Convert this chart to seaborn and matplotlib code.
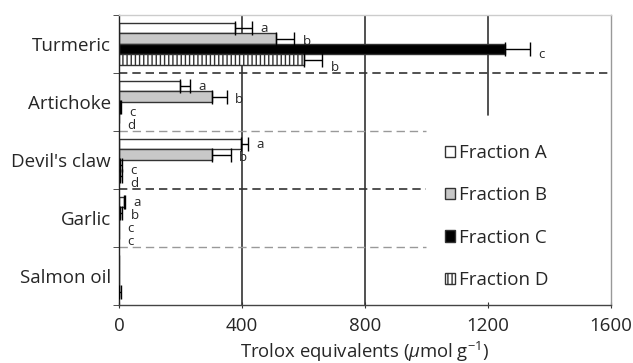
import pandas as pd
import matplotlib
matplotlib.use('Agg')
import matplotlib.pyplot as plt
import matplotlib.patches as mpatches
import seaborn as sns

# Data (Trolox equivalents, umol/g)
samples = ['Turmeric', 'Artichoke', "Devil's claw", 'Garlic', 'Salmon oil']
fractions = ['Fraction A', 'Fraction B', 'Fraction C', 'Fraction D']

frac_a = [378, 199, 396, 15, 0]
frac_b = [510, 303, 303, 2, 0]
frac_c = [1255, 2, 3, 0, 0]
frac_d = [602, 0, 3, 0, 1]

err_a = [55, 32, 24, 5, 0]
err_b = [60, 47, 60, 7, 0]
err_c = [82, 4, 7, 0, 0]
err_d = [58, 0, 7, 0, 7]

letters_a = ['a', 'a', 'a', 'a', '']
letters_b = ['b', 'b', 'b', 'b', '']
letters_c = ['c', 'c', 'c', 'c', '']
letters_d = ['b', 'd', 'd', 'c', '']

values = [frac_a, frac_b, frac_c, frac_d]
errors = [err_a, err_b, err_c, err_d]
letters = [letters_a, letters_b, letters_c, letters_d]
fills = ['white', '#c8c8c8', 'black', 'white']
hatches = [None, None, None, '||||']
letter_drop = [0.0, 0.05, 0.1, 0.14]

rows = []
for fr, vals in zip(fractions, values):
    for s, v in zip(samples, vals):
        rows.append({'sample': s, 'fraction': fr, 'value': v})
df = pd.DataFrame(rows)

sns.set_style('ticks')
plt.rcParams['font.family'] = ['Open Sans', 'DejaVu Sans']
plt.rcParams['mathtext.fontset'] = 'custom'
plt.rcParams['mathtext.rm'] = 'Open Sans'
plt.rcParams['mathtext.it'] = 'Open Sans:italic'
plt.rcParams['hatch.linewidth'] = 1.0

fig = plt.figure(figsize=(6.33, 3.63), dpi=100)
ax = fig.add_axes([0.188, 0.160, 0.777, 0.799])

sns.barplot(data=df, x='value', y='sample', hue='fraction', orient='h',
            palette=fills, saturation=1, width=0.72, errorbar=None,
            edgecolor='#333333', linewidth=1, legend=False, ax=ax)

# one-sided error bars + significance letters
for container, errs, labs, hatch, dy in zip(ax.containers, errors, letters, hatches, letter_drop):
    for patch, e, lab in zip(container.patches, errs, labs):
        if hatch:
            patch.set_hatch(hatch)
        yc = patch.get_y() + patch.get_height() / 2
        w = patch.get_width()
        if e > 0:
            ax.errorbar(w, yc, xerr=[[0], [e]], fmt='none', ecolor='black',
                        elinewidth=1, capsize=5, capthick=1, zorder=4)
        if lab:
            ax.text(w + e + 28, yc + dy, lab, fontsize=9.5, va='center', ha='left')

ax.set_xlim(0, 1600)
ax.set_ylim(4.5, -0.5)
ax.set_xticks([0, 400, 800, 1200, 1600])
ax.tick_params(axis='x', labelsize=13.5, length=4, direction='inout', color='#333333', pad=7)
ax.tick_params(axis='y', which='major', length=0, labelsize=13.5, pad=6)
ax.set_yticks([-0.5, 0.5, 1.5, 2.5, 3.5, 4.5], minor=True)
ax.tick_params(axis='y', which='minor', length=4, color='#333333')
ax.set_ylabel('')
ax.set_xlabel(r'Trolox equivalents ($\mu$mol g$^{-1}$)', fontsize=13.3, labelpad=3)

# vertical reference lines
ax.axvline(400, color='#333333', lw=1.2, zorder=0)
ax.axvline(800, color='#333333', lw=1.2, zorder=0)
ax.axvline(1200, ymin=0.655, ymax=1, color='#333333', lw=1.2, zorder=0)

# group separators
ax.axhline(0.5, color='#333333', lw=1.2, ls=(0, (5, 3)), zorder=1)
ax.plot([0, 1000], [1.5, 1.5], color='#999999', lw=1.0, ls=(0, (6, 3.5)), zorder=1)
ax.plot([0, 1000], [2.5, 2.5], color='#333333', lw=1.2, ls=(0, (5, 3)), zorder=1)
ax.plot([0, 1000], [3.5, 3.5], color='#999999', lw=1.0, ls=(0, (6, 3.5)), zorder=1)

for side, col in [('left', '#222222'), ('bottom', '#444444'), ('top', '#cccccc'), ('right', '#999999')]:
    ax.spines[side].set_visible(True)
    ax.spines[side].set_color(col)
    ax.spines[side].set_linewidth(1.0)

handles = [mpatches.Patch(facecolor=f, edgecolor='#333333', hatch=h, label=fr)
           for f, h, fr in zip(fills, hatches, fractions)]
ax.legend(handles=handles, loc='upper left', bbox_to_anchor=(0.662, 0.555),
          frameon=False, fontsize=13.5, handlelength=0.55, handleheight=0.55,
          handletextpad=0.2, labelspacing=1.3, borderpad=0, borderaxespad=0)

fig.savefig('out.png', dpi=100)
